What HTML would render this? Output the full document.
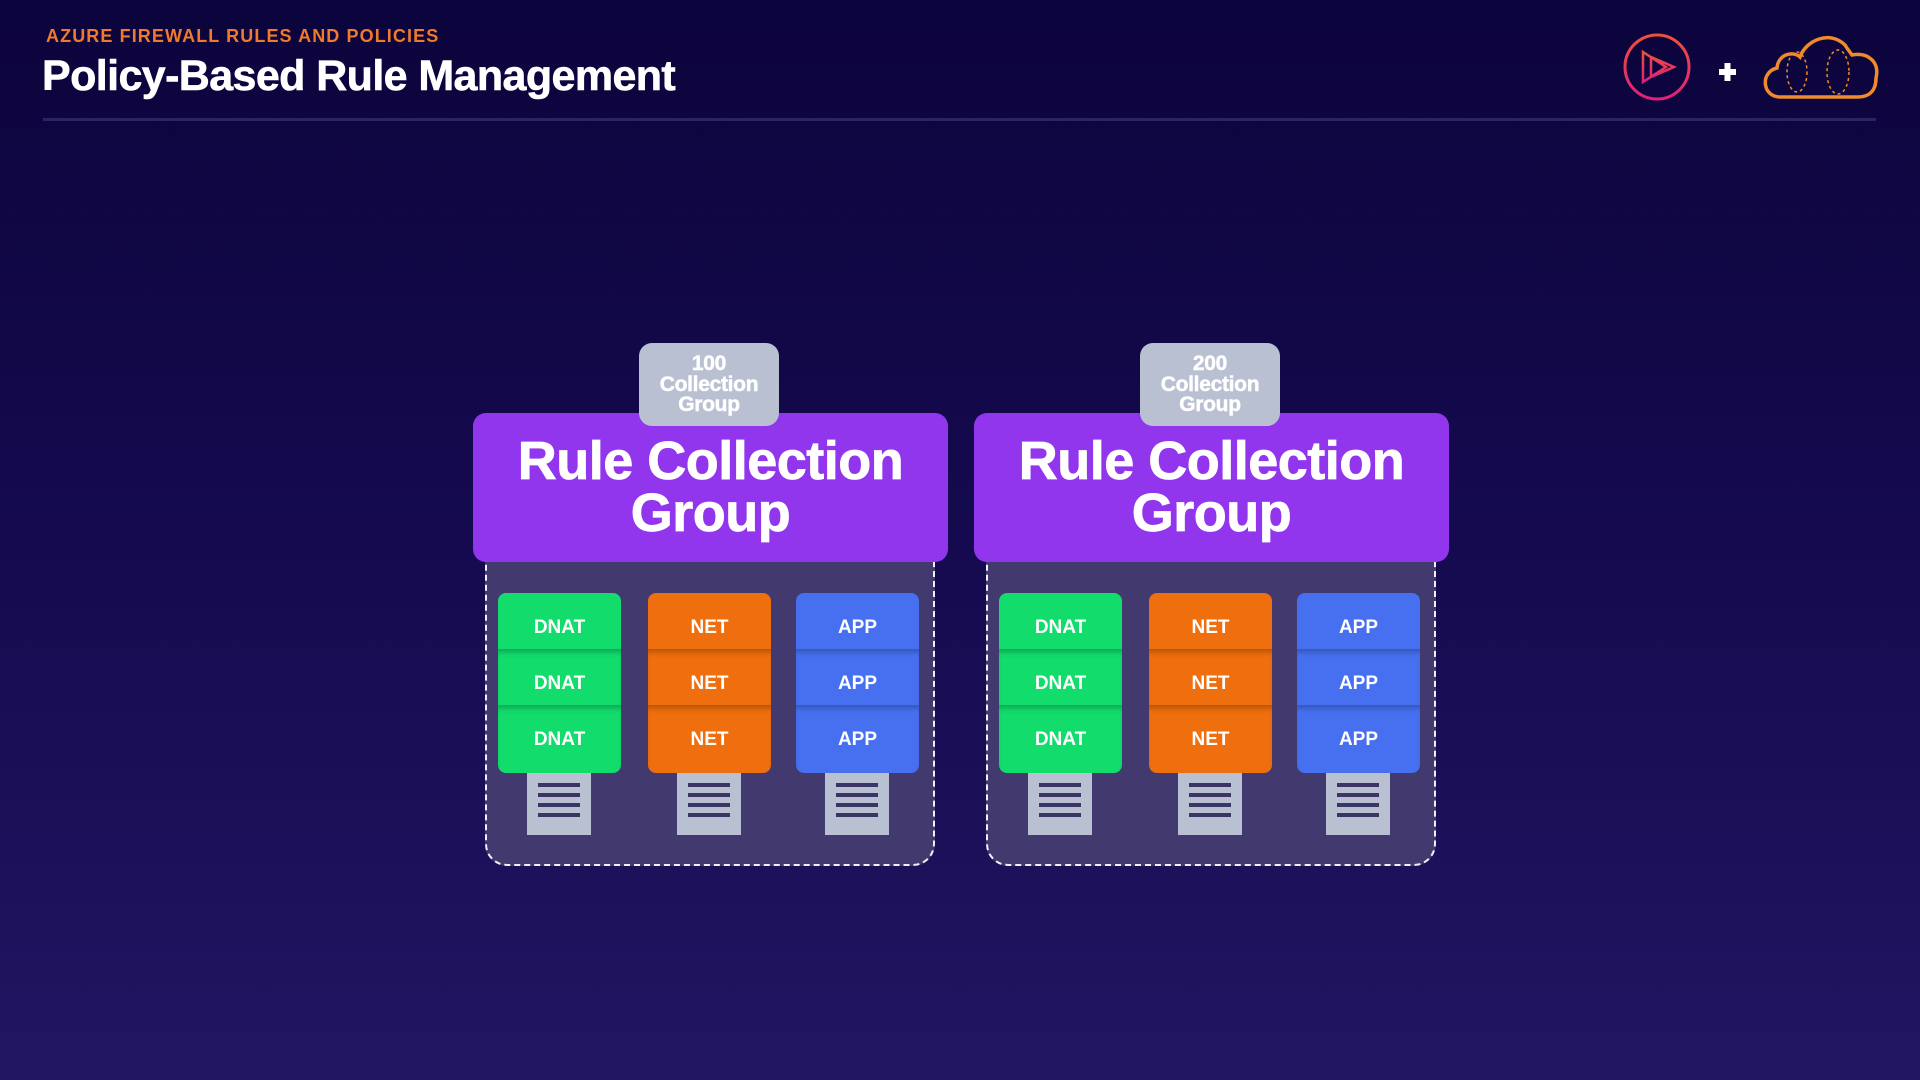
<!DOCTYPE html>
<html><head><meta charset="utf-8"><style>
*{margin:0;padding:0;box-sizing:border-box}
body{width:1920px;height:1080px;overflow:hidden;background:linear-gradient(180deg,#0c043c 0%,#150a4f 50%,#221562 100%);font-family:"Liberation Sans",Arial,sans-serif;position:relative}
.a{position:absolute}
.sub{left:46px;top:26px;color:#f07a2a;font-weight:bold;font-size:18px;letter-spacing:1.1px}
.tit{left:42px;top:52px;color:#fff;font-weight:bold;font-size:43px;letter-spacing:-0.6px;-webkit-text-stroke:0.6px #fff}
.hr{left:43px;top:118px;width:1833px;height:3px;background:#2a2462}
.grp{position:absolute;top:0;left:0;width:1920px;height:1080px}
.dash{left:485px;top:540px;width:450px;height:326px;border:2.5px dashed #f0f0f8;border-top:none;border-radius:0 0 22px 22px;background:#423a6e}
.pur{left:473px;top:413px;width:475px;height:149px;background:#9136ec;border-radius:13px;color:#fff;font-weight:bold;font-size:54px;text-align:center;line-height:52px;padding-top:22px;letter-spacing:-0.5px;-webkit-text-stroke:0.8px #fff}
.badge{left:639px;top:343px;width:140px;height:83px;background:#b9c0d2;border-radius:13px;color:#fff;font-weight:bold;font-size:21px;line-height:20.5px;text-align:center;padding-top:11px;letter-spacing:-0.3px;-webkit-text-stroke:0.5px #fff}
.col{top:593px;width:123px;height:180px;border-radius:8px;overflow:hidden}
.cell{height:56px;color:#fff;font-weight:bold;font-size:19px;text-align:center;line-height:70px;position:relative}
.cell+.cell{box-shadow:inset 0 6px 6px -3px rgba(0,0,0,0.25)}
.c3{height:68px}
.doc{top:773px;width:64px;height:62px;background:#b9c0d2}
.doc i{position:absolute;left:11px;width:42px;height:4px;background:#3b3565}
</style></head><body>
<div class="a sub">AZURE FIREWALL RULES AND POLICIES</div>
<div class="a tit">Policy-Based Rule Management</div>
<div class="a hr"></div>
<svg class="a" style="left:1620px;top:28px" width="270" height="80" viewBox="1620 28 270 80">
<defs><linearGradient id="g" x1="0" y1="0" x2="0" y2="1"><stop offset="0" stop-color="#f0503a"/><stop offset="1" stop-color="#e0207a"/></linearGradient></defs>
<circle cx="1657" cy="67" r="32" fill="none" stroke="url(#g)" stroke-width="3"/>
<path d="M1643 52 L1643 82 L1666 67 Z M1651 57 L1651 77 L1674 67 Z" fill="none" stroke="url(#g)" stroke-width="2.5"/>
<path d="M1719 72 H1736 M1727.5 63 V81" stroke="#fff" stroke-width="6"/>
<path d="M1780 97 C1762 97 1760 72 1777 68 C1778 55 1792 50 1800 57 C1806 40 1830 30 1845 45 C1848 50 1850 52 1852 55 C1868 52 1880 62 1876 78 C1876 92 1868 97 1858 97 Z" fill="none" stroke="#f08a2a" stroke-width="3.5"/>
<ellipse cx="1797" cy="72" rx="10" ry="20" fill="none" stroke="#f08a2a" stroke-width="1.5" stroke-dasharray="3 3"/>
<ellipse cx="1838" cy="72" rx="11" ry="22" fill="none" stroke="#f08a2a" stroke-width="1.5" stroke-dasharray="3 3"/>
</svg>

<div class="grp">
<div class="a dash"></div>
<div class="a pur">Rule Collection<br>Group</div>
<div class="a badge">100<br>Collection<br>Group</div>
<div class="a col" style="left:498px;background:#12dc6c"><div class="cell">DNAT</div><div class="cell">DNAT</div><div class="cell c3">DNAT</div></div>
<div class="a col" style="left:648px;background:#ef6e0e"><div class="cell">NET</div><div class="cell">NET</div><div class="cell c3">NET</div></div>
<div class="a col" style="left:796px;background:#4670ef"><div class="cell">APP</div><div class="cell">APP</div><div class="cell c3">APP</div></div>
<div class="a doc" style="left:527px"><i style="top:10px"></i><i style="top:20px"></i><i style="top:30px"></i><i style="top:40px"></i></div>
<div class="a doc" style="left:677px"><i style="top:10px"></i><i style="top:20px"></i><i style="top:30px"></i><i style="top:40px"></i></div>
<div class="a doc" style="left:825px"><i style="top:10px"></i><i style="top:20px"></i><i style="top:30px"></i><i style="top:40px"></i></div>
</div>

<div class="grp" style="left:501px">
<div class="a dash"></div>
<div class="a pur">Rule Collection<br>Group</div>
<div class="a badge">200<br>Collection<br>Group</div>
<div class="a col" style="left:498px;background:#12dc6c"><div class="cell">DNAT</div><div class="cell">DNAT</div><div class="cell c3">DNAT</div></div>
<div class="a col" style="left:648px;background:#ef6e0e"><div class="cell">NET</div><div class="cell">NET</div><div class="cell c3">NET</div></div>
<div class="a col" style="left:796px;background:#4670ef"><div class="cell">APP</div><div class="cell">APP</div><div class="cell c3">APP</div></div>
<div class="a doc" style="left:527px"><i style="top:10px"></i><i style="top:20px"></i><i style="top:30px"></i><i style="top:40px"></i></div>
<div class="a doc" style="left:677px"><i style="top:10px"></i><i style="top:20px"></i><i style="top:30px"></i><i style="top:40px"></i></div>
<div class="a doc" style="left:825px"><i style="top:10px"></i><i style="top:20px"></i><i style="top:30px"></i><i style="top:40px"></i></div>
</div>
</body></html>
